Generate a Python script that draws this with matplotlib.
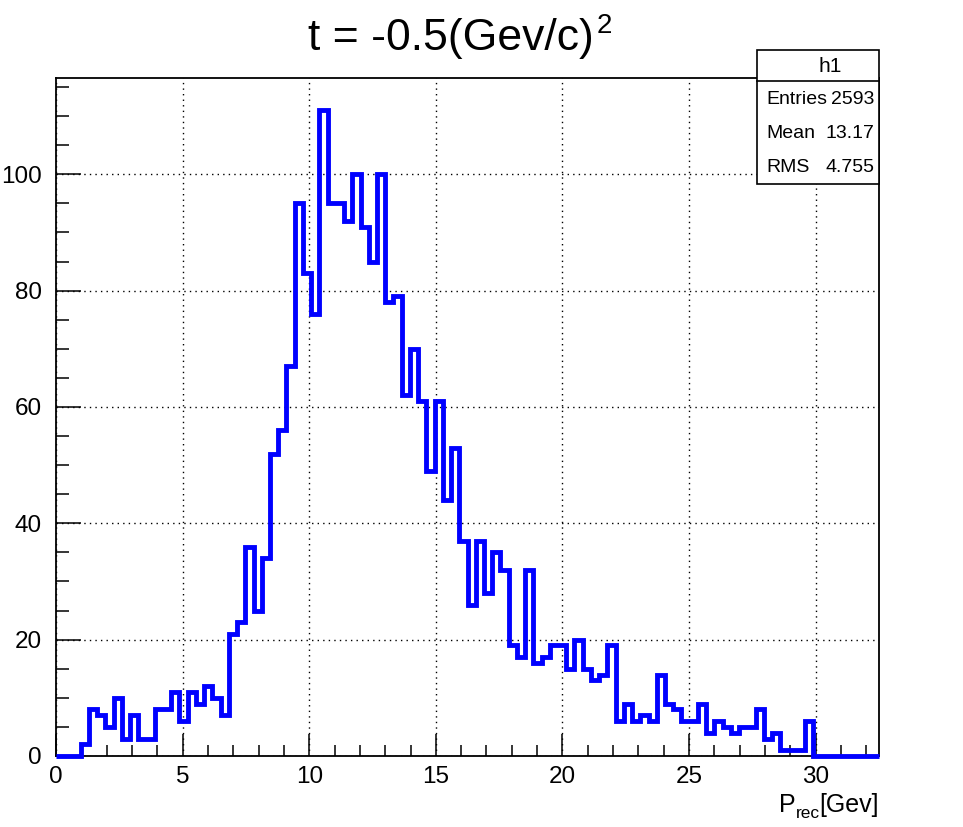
import numpy as np
import matplotlib
matplotlib.use("Agg")
import matplotlib.pyplot as plt
from matplotlib.ticker import MultipleLocator

plt.rcParams['font.family'] = ['Liberation Sans', 'DejaVu Sans']

# Histogram h1: 100 bins over [0, 32.5]
x_min, x_max, n_bins = 0.0, 32.5, 100
counts = [
    0, 0, 0, 2, 8, 7, 5, 10, 3, 7,
    3, 3, 8, 8, 11, 6, 11, 9, 12, 10,
    7, 21, 23, 36, 25, 34, 52, 56, 67, 95,
    83, 76, 111, 95, 95, 92, 100, 91, 85, 100,
    78, 79, 62, 70, 61, 49, 61, 44, 53, 37,
    26, 37, 28, 35, 32, 19, 17, 32, 16, 17,
    19, 19, 15, 20, 15, 13, 14, 19, 6, 9,
    6, 7, 6, 14, 9, 8, 6, 6, 9, 4,
    6, 5, 4, 5, 5, 8, 3, 4, 1, 1,
    1, 6, 0, 0, 0, 0, 0, 0, 0, 0,
]
stat_names = ["Entries", "Mean", "RMS"]
stat_values = ["2593", "13.17", "4.755"]
hist_name = "h1"
title_main, title_sup = "t = -0.5(Gev/c)", "2"
xlab_main, xlab_sub, xlab_tail = "P", "rec", "[Gev]"

edges = np.linspace(x_min, x_max, n_bins + 1)
y_max = 1.05 * max(counts)

W, H = 963, 827
fig = plt.figure(figsize=(W / 100, H / 100), dpi=100)
ax = fig.add_axes([56 / W, 1 - 756 / H, (879 - 56) / W, (756 - 78) / H])

ax.stairs(counts, edges, baseline=0, color=(0, 0, 1), linewidth=3.5,
          clip_on=False, zorder=3)

ax.set_xlim(x_min, x_max)
ax.set_ylim(0, y_max)

ax.xaxis.set_major_locator(MultipleLocator(5))
ax.xaxis.set_minor_locator(MultipleLocator(1))
ax.yaxis.set_major_locator(MultipleLocator(20))
ax.yaxis.set_minor_locator(MultipleLocator(5))

ax.tick_params(axis='both', which='both', direction='in', top=False, right=False,
               width=1.1, color='black')
ax.tick_params(axis='x', which='major', length=16, pad=7, labelsize=17.5)
ax.tick_params(axis='x', which='minor', length=8)
ax.tick_params(axis='y', which='major', length=18, pad=10, labelsize=17.5)
ax.tick_params(axis='y', which='minor', length=9)

ax.grid(True, which='major', color='black', linestyle=(0, (1, 3)), linewidth=1.0)
ax.set_axisbelow(True)

for sp in ax.spines.values():
    sp.set_linewidth(1.3)
    sp.set_color('black')

fig.canvas.draw()
renderer = fig.canvas.get_renderer()


def px_to_fig(px, py):
    return px / W, 1 - py / H


# Title with a superscript placed after the main text
t_main = fig.text(0, 0, title_main, fontsize=32, ha='left', va='baseline')
bb = t_main.get_window_extent(renderer)
t_sup = fig.text(0, 0, title_sup, fontsize=20, ha='left', va='baseline')
bs = t_sup.get_window_extent(renderer)
total = bb.width + 2 + bs.width
x0 = 460 - total / 2
base_y = 50
t_main.set_position(px_to_fig(x0, base_y))
t_sup.set_position(px_to_fig(x0 + bb.width + 2, base_y - 17))

# X axis title, right aligned to the frame, with subscript
lab_base = 812
p1 = fig.text(0, 0, xlab_main, fontsize=18, ha='left', va='baseline')
p2 = fig.text(0, 0, xlab_sub, fontsize=12.5, ha='left', va='baseline')
p3 = fig.text(0, 0, xlab_tail, fontsize=18, ha='left', va='baseline')
w1 = p1.get_window_extent(renderer).width
w2 = p2.get_window_extent(renderer).width
w3 = p3.get_window_extent(renderer).width
xs = 879 - (w1 + w2 + w3)
p1.set_position(px_to_fig(xs, lab_base))
p2.set_position(px_to_fig(xs + w1, lab_base + 6))
p3.set_position(px_to_fig(xs + w1 + w2, lab_base))

# Statistics box
bx0, bx1 = 757 / W, 879 / W
by_top, by_sep, by_bot = 1 - 50 / H, 1 - 81 / H, 1 - 184 / H
box = plt.Rectangle((bx0, by_bot), bx1 - bx0, by_top - by_bot, transform=fig.transFigure,
                    facecolor='white', edgecolor='black', linewidth=1.2, zorder=5)
fig.add_artist(box)
fig.add_artist(plt.Line2D([bx0, bx1], [by_sep, by_sep], transform=fig.transFigure,
                          color='black', linewidth=1.2, zorder=6))
fig.text((bx0 + bx1) / 2 + 12 / W, 1 - 66 / H, hist_name, ha='center', va='center',
         fontsize=15, zorder=7)
row_y = [100, 134, 168]
for name, val, yy in zip(stat_names, stat_values, row_y):
    fig.text(766 / W, 1 - yy / H, name, ha='left', va='center', fontsize=14, zorder=7)
    fig.text(874 / W, 1 - yy / H, val, ha='right', va='center', fontsize=14, zorder=7)

fig.savefig("out.png", dpi=100)
